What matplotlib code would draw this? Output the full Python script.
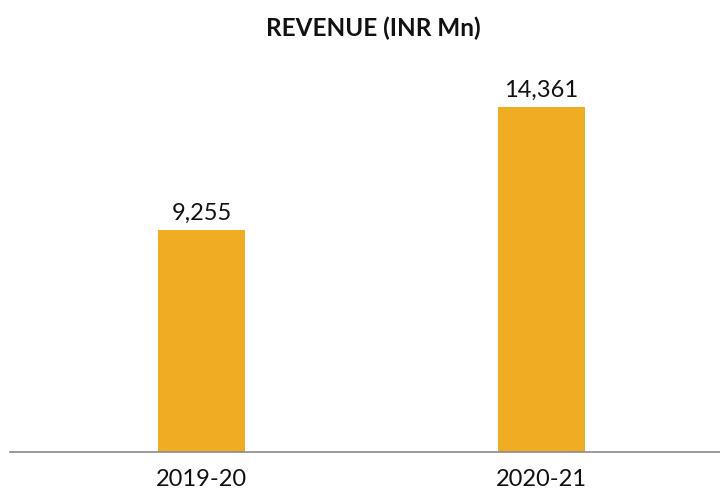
import matplotlib.pyplot as plt

# Revenue data (INR Mn)
years = ['2019-20', '2020-21']
revenue = [9255, 14361]
value_labels = ['9,255', '14,361']

plt.rcParams['font.family'] = ['Lato', 'DejaVu Sans']

fig = plt.figure(figsize=(7.2, 4.9), dpi=100)
ax = fig.add_axes([10 / 720, 38 / 490, 710 / 720, 392 / 490])

x = list(range(len(years)))
bars = ax.bar(x, revenue, width=0.256, color='#F0AC22', zorder=2)

# Value labels above each bar
for xi, val, lab in zip(x, revenue, value_labels):
    ax.annotate(lab, (xi, val), xytext=(0, 4.5), textcoords='offset points',
                ha='center', va='bottom', fontsize=17, color='#111111')

ax.set_xlim(-0.563, 1.525)
ax.set_ylim(0, 16318)
ax.set_xticks(x)
ax.set_xticklabels(years, fontsize=17, color='#111111')
ax.tick_params(axis='x', length=0, pad=12)
ax.set_yticks([])

for side in ['top', 'right', 'left']:
    ax.spines[side].set_visible(False)
ax.spines['bottom'].set_color('#8a8a8a')
ax.spines['bottom'].set_linewidth(1.2)

fig.text(373 / 720, 1 - 28 / 490, 'REVENUE (INR Mn)', ha='center', va='center',
         fontsize=17.5, fontweight='bold', color='#111111')

fig.savefig('out.png', dpi=100)
